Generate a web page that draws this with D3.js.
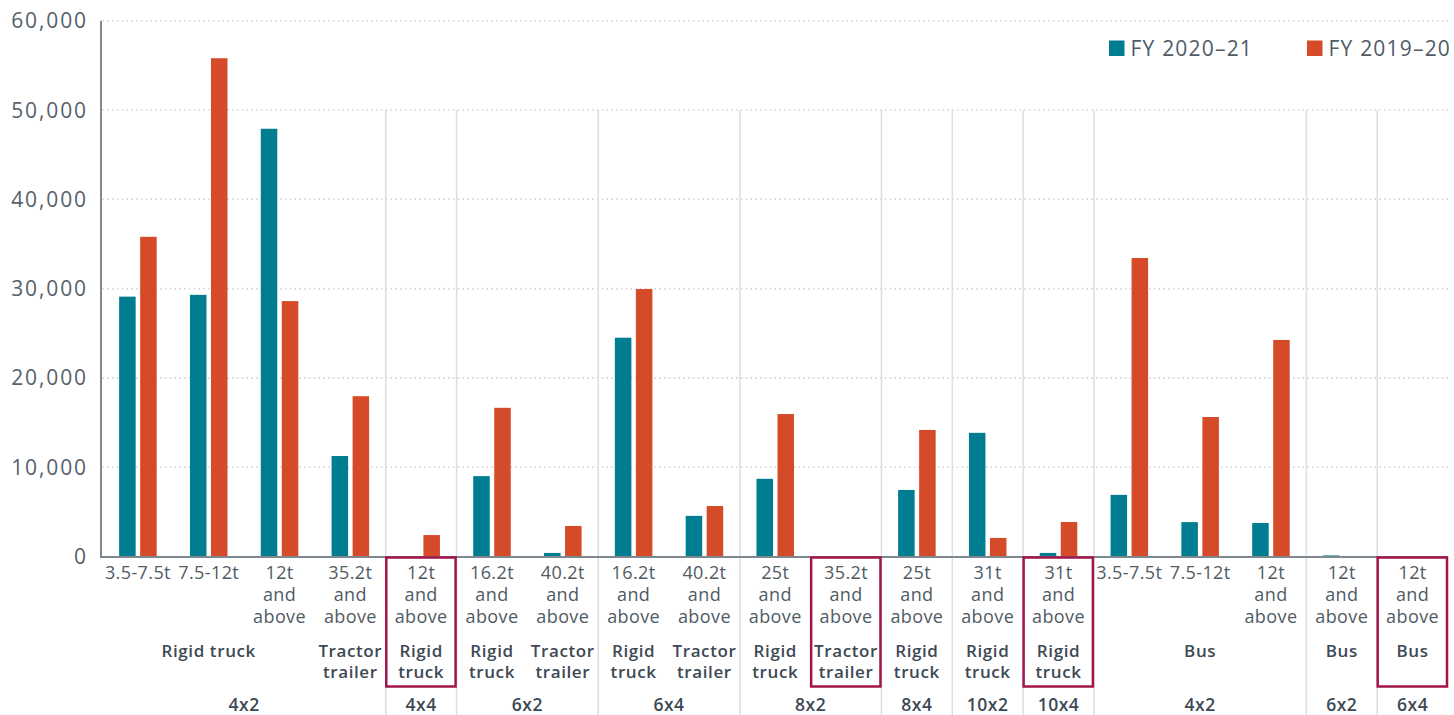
<!DOCTYPE html>
<html><head><meta charset="utf-8">
<script src="https://cdn.jsdelivr.net/npm/d3@7"></script>
<style>
html,body{margin:0;padding:0;background:#fff;}
svg{display:block;font-family:"Open Sans",sans-serif;}
</style></head>
<body><svg id="c" width="1454" height="715"></svg>
<script>
const categories = ["3.5-7.5t","7.5-12t","12t\nand\nabove","35.2t\nand\nabove","12t\nand\nabove","16.2t\nand\nabove","40.2t\nand\nabove","16.2t\nand\nabove","40.2t\nand\nabove","25t\nand\nabove","35.2t\nand\nabove","25t\nand\nabove","31t\nand\nabove","31t\nand\nabove","3.5-7.5t","7.5-12t","12t\nand\nabove","12t\nand\nabove","12t\nand\nabove"];
const vehicleTypes = ["Rigid truck","Rigid truck","Rigid truck","Tractor trailer","Rigid truck","Rigid truck","Tractor trailer","Rigid truck","Tractor trailer","Rigid truck","Tractor trailer","Rigid truck","Rigid truck","Rigid truck","Bus","Bus","Bus","Bus","Bus"];
const axleGroups = ["4x2","4x2","4x2","4x2","4x4","6x2","6x2","6x4","6x4","8x2","8x2","8x4","10x2","10x4","4x2","4x2","4x2","6x2","6x4"];
const fy2021 = [29100,29300,47900,11250,0,9000,400,24500,4550,8700,0,7450,13850,400,6900,3850,3750,120,0];
const fy1920 = [35800,55800,28600,17950,2400,16650,3420,29950,5650,15950,0,14170,2080,3860,33430,15620,24250,0,0];
const highlighted = [4,10,13,18];
const seriesNames = ["FY 2020–21","FY 2019–20"];
const seriesColors = ["#007d91","#d54a29"];
const yTicks = [0,10000,20000,30000,40000,50000,60000];

(function(){
const svg = d3.select("#c");
const L = 102.5, R = 1448, T = 20.7, B = 556.5;
const idx = d3.range(categories.length);
const x = d3.scaleBand().domain(idx).range([L, R]).paddingInner(0.47).paddingOuter(0.235);
const xs = d3.scaleBand().domain([0,1]).range([0, x.bandwidth()]).paddingInner(0.214);
const y = d3.scaleLinear().domain([0,60000]).range([B, T]);
const step = x.step();
const catStart = i => L + i*step;

// gridlines
svg.append("g").selectAll("line").data(yTicks.filter(d=>d>0)).join("line")
  .attr("x1", L).attr("x2", R).attr("y1", d=>y(d)).attr("y2", d=>y(d))
  .attr("stroke","#d3d3d3").attr("stroke-width",1.6).attr("stroke-dasharray","1.6,3.2");

function runs(keyFn){
  const out=[]; idx.forEach(i=>{const k=keyFn(i); const last=out[out.length-1];
    if(last && last.key===k) last.end=i; else out.push({key:k,start:i,end:i});}); return out;}
const axleRuns = runs(i=>axleGroups[i]);
const typeRuns = runs(i=>axleGroups[i]+"|"+vehicleTypes[i]);

// separators
svg.append("g").selectAll("line").data(axleRuns.slice(1)).join("line")
  .attr("x1", d=>catStart(d.start)).attr("x2", d=>catStart(d.start))
  .attr("y1", y(50000)).attr("y2", 715)
  .attr("stroke","#dedede").attr("stroke-width",1.5);

// y axis labels
svg.append("g").selectAll("text").data(yTicks).join("text")
  .attr("x", 88).attr("y", d=>y(d)).attr("dy","0.36em").attr("text-anchor","end")
  .attr("font-size",21).attr("letter-spacing",1.9).attr("fill","#55616b")
  .text(d=>d3.format(",")(d));

// bars
const series = [fy2021, fy1920];
series.forEach((vals, s)=>{
  svg.append("g").selectAll("rect").data(idx).join("rect")
    .attr("x", i=>x(i)+xs(s)).attr("width", xs.bandwidth())
    .attr("y", i=>y(vals[i])).attr("height", i=>B - y(vals[i]))
    .attr("fill", seriesColors[s]);
});

// axis lines
svg.append("line").attr("x1",L-1.5).attr("x2",L-1.5).attr("y1",T).attr("y2",B+1)
  .attr("stroke","#7d8890").attr("stroke-width",2);
svg.append("line").attr("x1",L-2.5).attr("x2",R).attr("y1",B+0.5).attr("y2",B+0.5)
  .attr("stroke","#7d8890").attr("stroke-width",2);

// category labels
const catG = svg.append("g").attr("font-size",18).attr("fill","#4f5b65").attr("text-anchor","middle").attr("letter-spacing",0.4);
idx.forEach(i=>{
  categories[i].split("\n").forEach((ln,k)=>catG.append("text")
    .attr("x",catStart(i)+step/2).attr("y",579+22*k).text(ln));
});

// vehicle type labels
const typeG = svg.append("g").attr("font-size",17).attr("font-weight",600).attr("fill","#3d4954").attr("text-anchor","middle").attr("letter-spacing",0.6);
typeRuns.forEach(r=>{
  const label = r.key.split("|")[1];
  const cx = (catStart(r.start)+catStart(r.end+1))/2;
  const lines = (r.end===r.start) ? label.split(" ") : [label];
  lines.forEach((ln,k)=>typeG.append("text").attr("x",cx).attr("y",657+21*k).text(ln));
});

// axle group labels
svg.append("g").attr("font-size",17.5).attr("font-weight",600).attr("fill","#3d4954").attr("text-anchor","middle").attr("letter-spacing",0.5)
  .selectAll("text").data(axleRuns).join("text")
  .attr("x", d=>(catStart(d.start)+catStart(d.end+1))/2).attr("y",711).text(d=>d.key);

// highlight boxes
svg.append("g").selectAll("rect").data(highlighted).join("rect")
  .attr("x", i=>catStart(i)+0.5).attr("width", step-1.5)
  .attr("y", B+1).attr("height", 686.5-B-1)
  .attr("fill","none").attr("stroke","#a3154a").attr("stroke-width",2.5);

// legend
const legX = [1109, 1307];
const leg = svg.append("g");
seriesNames.forEach((n,s)=>{
  leg.append("rect").attr("x",legX[s]).attr("y",40.5).attr("width",15.5).attr("height",15.5).attr("fill",seriesColors[s]);
  leg.append("text").attr("x",legX[s]+21.5).attr("y",55.5).attr("font-size",21).attr("letter-spacing",1.2).attr("fill","#4f5b65").text(n);
});
})();
</script></body></html>
